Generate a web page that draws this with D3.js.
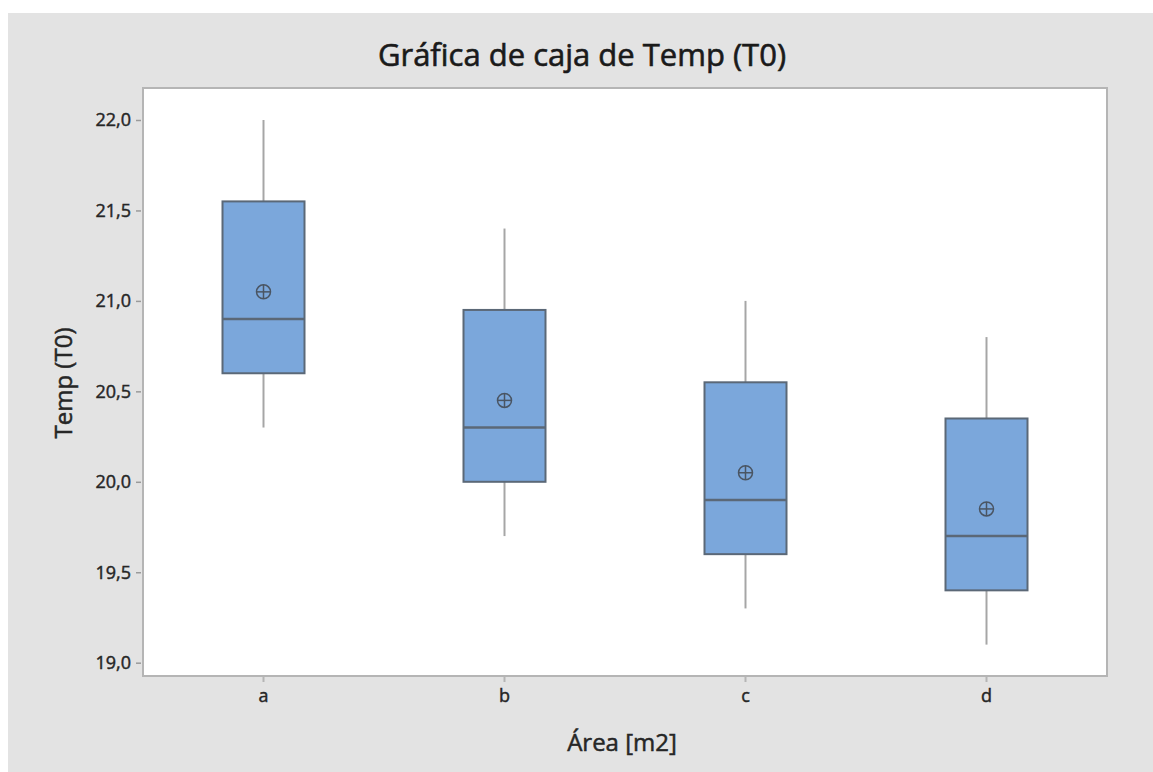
<!DOCTYPE html>
<html>
<head>
<meta charset="utf-8">
<script src="https://cdn.jsdelivr.net/npm/d3@7"></script>
<style>
  html, body { margin: 0; padding: 0; background: #ffffff; }
  svg { display: block; }
</style>
</head>
<body>
<svg id="chart" width="1153" height="772"></svg>
<script>
// ---- data ----
const categories = ["a", "b", "c", "d"];
const whiskerLow  = [20.3, 19.7, 19.3, 19.1];
const q1          = [20.6, 20.0, 19.6, 19.4];
const median      = [20.9, 20.3, 19.9, 19.7];
const q3          = [21.55, 20.95, 20.55, 20.35];
const whiskerHigh = [22.0, 21.4, 21.0, 20.8];
const means       = [21.05, 20.45, 20.05, 19.85];
const yTicks      = [19.0, 19.5, 20.0, 20.5, 21.0, 21.5, 22.0];
const titleText = "Gráfica de caja de Temp (T0)";
const xLabel = "Área [m2]";
const yLabel = "Temp (T0)";

const svg = d3.select("#chart");
const W = 1153, H = 772;
const font = "'Open Sans', 'Noto Sans', sans-serif";

// outer grey panel
svg.append("rect").attr("x", 8).attr("y", 13).attr("width", W - 8).attr("height", H - 13)
  .attr("fill", "#e3e3e3");

const plot = { left: 143, top: 88, right: 1107, bottom: 676 };

svg.append("rect")
  .attr("x", plot.left).attr("y", plot.top)
  .attr("width", plot.right - plot.left).attr("height", plot.bottom - plot.top)
  .attr("fill", "#ffffff").attr("stroke", "#b5b5b5").attr("stroke-width", 2);

const x = d3.scaleBand().domain(categories).range([plot.left, plot.right]);
const y = d3.scaleLinear().domain([19.0, 22.0]).range([662.7, 120]);

// y axis
const yAxis = d3.axisLeft(y).tickValues(yTicks).tickSize(5).tickPadding(5)
  .tickFormat(d => d3.format(".1f")(d).replace(".", ","));
const gy = svg.append("g").attr("transform", `translate(${plot.left - 2},0)`).call(yAxis);
gy.select(".domain").remove();
gy.selectAll(".tick line").attr("stroke", "#9a9a9a").attr("stroke-width", 1.5);
gy.selectAll(".tick text").attr("fill", "#262626").attr("font-family", font)
  .attr("font-size", 18).attr("stroke", "#262626").attr("stroke-width", 0.45);

// x axis
const xAxis = d3.axisBottom(x).tickSize(5).tickPadding(7);
const gx = svg.append("g").attr("transform", `translate(0,${plot.bottom + 1})`).call(xAxis);
gx.select(".domain").remove();
gx.selectAll(".tick line").attr("stroke", "#b5b5b5").attr("stroke-width", 2);
gx.selectAll(".tick text").attr("fill", "#262626").attr("font-family", font)
  .attr("font-size", 18).attr("stroke", "#262626").attr("stroke-width", 0.45);

// boxes
const boxW = 82;
const data = categories.map((c, i) => ({
  c, lo: whiskerLow[i], q1: q1[i], med: median[i], q3: q3[i], hi: whiskerHigh[i], mean: means[i]
}));
const g = svg.append("g");
data.forEach(d => {
  const cx = x(d.c) + x.bandwidth() / 2;
  // whiskers
  g.append("line").attr("x1", cx).attr("x2", cx).attr("y1", y(d.hi)).attr("y2", y(d.q3))
    .attr("stroke", "#a6a6a6").attr("stroke-width", 2);
  g.append("line").attr("x1", cx).attr("x2", cx).attr("y1", y(d.q1)).attr("y2", y(d.lo))
    .attr("stroke", "#a6a6a6").attr("stroke-width", 2);
  // box
  g.append("rect").attr("x", cx - boxW / 2).attr("y", y(d.q3))
    .attr("width", boxW).attr("height", y(d.q1) - y(d.q3))
    .attr("fill", "#7ba7db").attr("stroke", "#5b6877").attr("stroke-width", 2);
  // median
  g.append("line").attr("x1", cx - boxW / 2).attr("x2", cx + boxW / 2)
    .attr("y1", y(d.med)).attr("y2", y(d.med))
    .attr("stroke", "#5b6877").attr("stroke-width", 2.5);
  // mean symbol
  const my = y(d.mean), r = 7;
  g.append("circle").attr("cx", cx).attr("cy", my).attr("r", r)
    .attr("fill", "none").attr("stroke", "#4a5563").attr("stroke-width", 1.5);
  g.append("line").attr("x1", cx - r).attr("x2", cx + r).attr("y1", my).attr("y2", my)
    .attr("stroke", "#4a5563").attr("stroke-width", 1.5);
  g.append("line").attr("x1", cx).attr("x2", cx).attr("y1", my - r).attr("y2", my + r)
    .attr("stroke", "#4a5563").attr("stroke-width", 1.5);
});

// title & labels
svg.append("text").attr("x", 582).attr("y", 66).attr("text-anchor", "middle")
  .attr("font-family", font).attr("font-size", 31)
  .attr("fill", "#1a1a1a").attr("stroke", "#1a1a1a").attr("stroke-width", 0.6).text(titleText);
svg.append("text").attr("x", 622).attr("y", 751).attr("text-anchor", "middle")
  .attr("font-family", font).attr("font-size", 24)
  .attr("fill", "#262626").attr("stroke", "#262626").attr("stroke-width", 0.5).text(xLabel);
svg.append("text").attr("transform", "translate(72,383) rotate(-90)").attr("text-anchor", "middle")
  .attr("font-family", font).attr("font-size", 24)
  .attr("fill", "#262626").attr("stroke", "#262626").attr("stroke-width", 0.5).text(yLabel);
</script>
</body>
</html>
